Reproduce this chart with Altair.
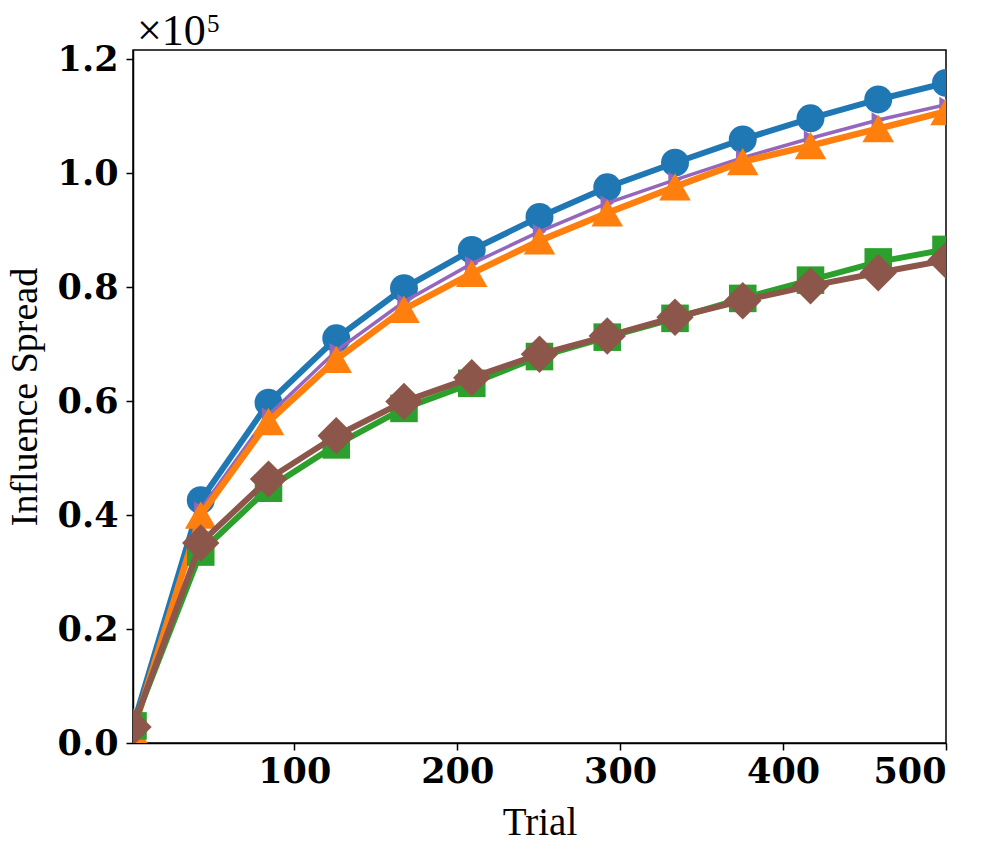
import altair as alt
import pandas as pd

# Trial positions (x)
trials = [1, 42.58, 84.17, 125.75, 167.33, 208.92, 250.5, 292.08, 333.67,
          375.25, 416.83, 458.42, 500]

# Influence spread values (raw)
blue_vals = [3000, 42600, 59700, 71000, 79800, 86500, 92300, 97500, 101800,
             105900, 109600, 112900, 115800]
purple_vals = [2500, 41000, 57500, 68800, 77400, 84100, 89700, 94700, 98800,
               102700, 106100, 109300, 112000]
orange_vals = [2000, 40000, 56400, 67300, 76100, 82400, 88100, 93000, 97600,
               102000, 104800, 107800, 110800]
green_vals = [3000, 33500, 44700, 52300, 58700, 63100, 67800, 71200, 74500,
              78000, 81200, 84400, 86600]
brown_vals = [2800, 35100, 46300, 53900, 59900, 64100, 68200, 71400, 74700,
              77600, 80200, 82500, 84700]

y_ticks = [0, 0.2, 0.4, 0.6, 0.8, 1.0, 1.2]
x_ticks = [100, 200, 300, 400, 500]

series = [
    ("blue", blue_vals, "#1f77b4", "circle", 780, 6),
    ("purple", purple_vals, "#9467bd", "triangle-right", 240, 3.5),
    ("orange", orange_vals, "#ff7f0e", "triangle-up", 1000, 6.5),
    ("green", green_vals, "#2ca02c", "square", 760, 6),
    ("brown", brown_vals, "#8c564b", "diamond", 1400, 6),
]

x_scale = alt.Scale(domain=[1, 500], nice=False, zero=False)
y_scale = alt.Scale(domain=[0, 1.2158], nice=False, zero=False)

x_axis = alt.Axis(values=x_ticks, title="Trial",
                  labelFont="DejaVu Serif", labelFontWeight="bold",
                  labelFontSize=35, labelPadding=4, titleFont="Liberation Serif",
                  titleFontWeight="normal", titleFontSize=39, titlePadding=14,
                  labelColor="black", titleColor="black", grid=False,
                  domainColor="black", domainWidth=1.5, tickColor="black",
                  tickWidth=1.5, tickSize=7)
y_axis = alt.Axis(values=y_ticks, format=".1f",
                  title="Influence Spread", labelFont="DejaVu Serif",
                  labelFontWeight="bold", labelFontSize=35, labelPadding=8,
                  titleFont="Liberation Serif", titleFontWeight="normal",
                  titleFontSize=38, titleX=-89, labelColor="black",
                  titleColor="black", grid=False, domainColor="black",
                  domainWidth=1.5, tickColor="black", tickWidth=1.5, tickSize=7)

layers = []
for name, vals, color, shape, size, lw in series:
    df = pd.DataFrame({"trial": trials, "spread": vals})
    base = alt.Chart(df).transform_calculate(y="datum.spread / 100000")
    enc_x = alt.X("trial:Q", scale=x_scale, axis=x_axis)
    enc_y = alt.Y("y:Q", scale=y_scale, axis=y_axis)
    line = base.mark_line(color=color, strokeWidth=lw, clip=True).encode(x=enc_x, y=enc_y)
    pts = base.mark_point(filled=True, shape=shape, size=size, color=color,
                          opacity=1, strokeWidth=0, clip=True).encode(x=enc_x, y=enc_y)
    layers += [line, pts]

txt_df = pd.DataFrame({"t": ["×10"], "s": ["5"]})
mult = alt.Chart(txt_df).mark_text(font="Liberation Serif", fontSize=44,
                                   align="left", baseline="alphabetic",
                                   color="black").encode(
    x=alt.value(4), y=alt.value(-5), text="t:N")
sup = alt.Chart(txt_df).mark_text(font="Liberation Serif", fontSize=25,
                                  align="left", baseline="alphabetic",
                                  color="black").encode(
    x=alt.value(74), y=alt.value(-18), text="s:N")

chart = alt.layer(*layers, mult, sup).properties(
    width=813, height=693,
    autosize=alt.AutoSizeParams(type="none"),
    padding={"left": 133, "top": 50, "right": 51, "bottom": 117},
    background="white",
).configure_view(stroke="black", strokeWidth=1.5)

chart.save("out.html", embed_options={"renderer": "svg", "actions": False})
